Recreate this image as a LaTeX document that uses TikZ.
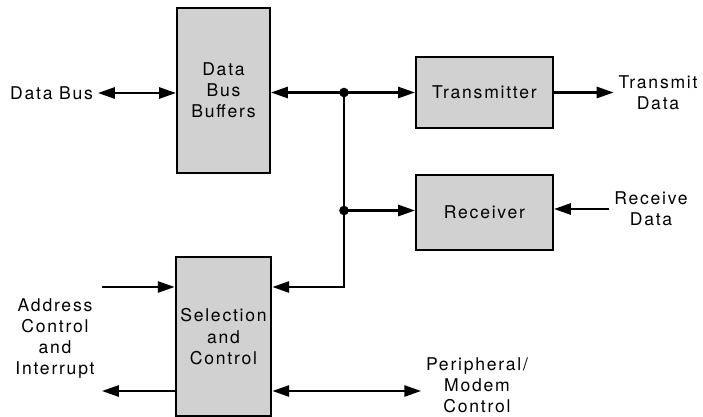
\documentclass[tikz,border=0pt]{standalone}
\usepackage{fontspec}
\setmainfont[LetterSpace=10]{TeX Gyre Heros}
\usepackage{tikz}
\usetikzlibrary{positioning, arrows.meta}
\tikzset{
    block_style/.style={
        rectangle,            % box shape
        draw=black,
        line width=1.5pt,
        fill=black!18,
        align=center,
        font=\fontsize{12.5}{15}\selectfont
    },
    label_style/.style={
        align=center,
        font=\fontsize{12.5}{15}\selectfont
    },
    arrow_style/.style={
        -{Triangle[length=4.2mm,width=2.8mm]},
        line width=1.5pt
    },
    both_style/.style={
        {Triangle[length=4.2mm,width=2.8mm]}-{Triangle[length=4.2mm,width=2.8mm]},
        line width=1.5pt
    },
    dot_style/.style={
        circle, fill=black, inner sep=0pt, minimum size=2.4mm
    }
}

\begin{document}
\begin{tikzpicture}[x=0.025cm, y=-0.025cm]
    \useasboundingbox (0,0) rectangle (703,416);

    % 1. blocks
    \node[block_style, minimum width=2.325cm, minimum height=4.125cm] (dbb) at (223.5,90.5) {Data\\Bus\\Buffers};
    \node[block_style, minimum width=3.425cm, minimum height=1.775cm] (tx) at (484.5,92.5) {Transmitter};
    \node[block_style, minimum width=3.425cm, minimum height=1.875cm, below=1.125cm of tx] (rx) {Receiver};
    \node[block_style, minimum width=2.325cm, minimum height=3.975cm, below=2.05cm of dbb] (sel) {Selection\\and\\Control};

    % 2. outside labels
    \node[label_style, anchor=east] (databus) at (98,93) {Data Bus};
    \node[label_style] (txdata) at (658,92.5) {Transmit\\Data};
    \node[label_style] (rxdata) at (651,209) {Receive\\Data};
    \node[label_style] (addr) at (55,338.5) {Address\\Control\\and\\Interrupt};
    \node[label_style] (periph) at (477,385) {Peripheral/\\Modem\\Control};

    % 3. junctions and free ends
    \coordinate (j1) at (344,92.5);
    \coordinate (j2) at (344,210.5);
    \coordinate (selin) at (102,287);
    \coordinate (selout) at (102,391);

    % 4. connectors
    \draw[both_style] (databus.east) -- (databus.east -| dbb.west);
    \draw[arrow_style] (j1) -- (j1 -| dbb.east);
    \draw[arrow_style] (j1) -- (j1 -| tx.west);
    \draw[arrow_style] (j2) -- (j2 -| rx.west);
    \draw[arrow_style] (j1) |- (selin -| sel.east);
    \draw[arrow_style] (tx.east) -- (tx.east -| txdata.west);
    \draw[arrow_style] (rxdata.west) -- (rxdata.west -| rx.east);
    \draw[arrow_style] (selin) -- (selin -| sel.west);
    \draw[arrow_style] (selout -| sel.west) -- (selout);
    \draw[both_style] (sel.east |- selout) -- (selout -| periph.west);

    \node[dot_style] at (j1) {};
    \node[dot_style] at (j2) {};
\end{tikzpicture}
\end{document}
